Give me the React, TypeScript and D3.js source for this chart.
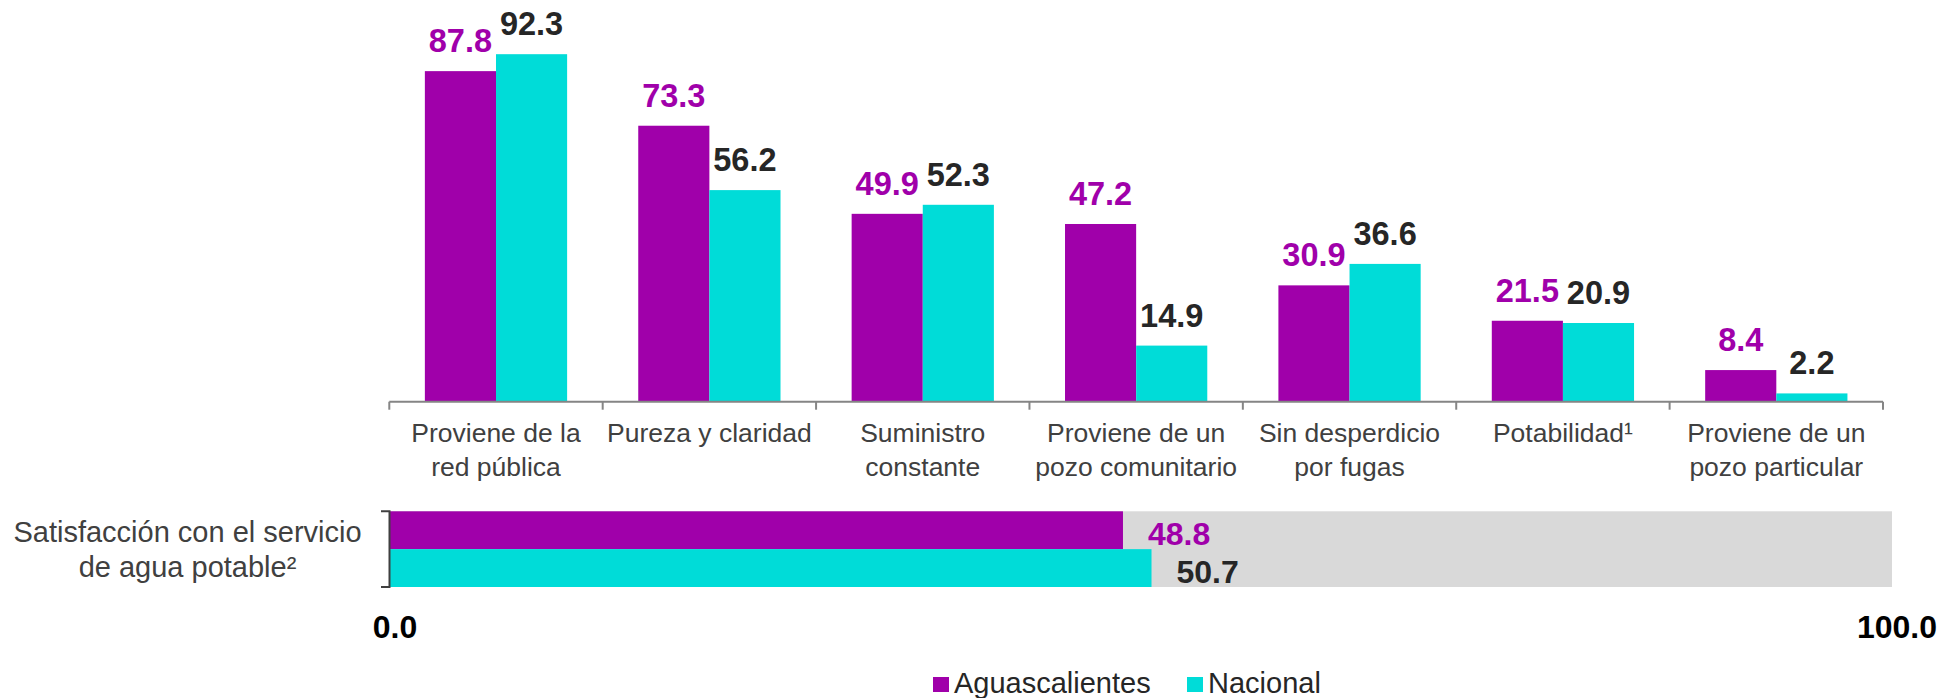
import React from 'react';
import * as d3 from 'd3';

// categorias (cada una con sus lineas de texto)
const categories = [
    ['Proviene de la', 'red pública'],
    ['Pureza y claridad'],
    ['Suministro', 'constante'],
    ['Proviene de un', 'pozo comunitario'],
    ['Sin desperdicio', 'por fugas'],
    ['Potabilidad¹'],
    ['Proviene de un', 'pozo particular'],
];
const series = ['Aguascalientes', 'Nacional'];
const aguascalientes = [87.8, 73.3, 49.9, 47.2, 30.9, 21.5, 8.4];
const nacional = [92.3, 56.2, 52.3, 14.9, 36.6, 20.9, 2.2];

const satisfaccionLabel = ['Satisfacción con el servicio', 'de agua potable²'];
const satisfaccion = [48.8, 50.7];
const axisTicks = [0, 100];

const PURPLE = '#A000AA';
const CYAN = '#00DCD8';
const FONT = '"Liberation Sans", Arial, sans-serif';

function App() {
    const width = 1949;
    const height = 698;

    // grafica de columnas
    const x0 = d3.scaleBand()
        .domain(categories.map((_, i) => String(i)))
        .range([389.3, 1883])
        .padding(0);
    const bw = x0.bandwidth();
    const x1 = d3.scaleBand().domain(series).range([bw / 6, (bw * 5) / 6]);
    const y = d3.scaleLinear().domain([0, 100]).range([401.7, 25.2]);

    // barra horizontal de satisfaccion
    const xs = d3.scaleLinear().domain([0, 100]).range([390, 1892]);
    const ys = d3.scaleBand().domain(series).range([511.3, 587]);

    const valuesBy = [aguascalientes, nacional];
    const labelColors = [PURPLE, '#262626'];
    const barColors = [PURPLE, CYAN];

    return (
        <svg width={width} height={height} style={{ position: 'absolute', left: 0, top: 0 }} fontFamily={FONT}>
            {/* columnas */}
            {categories.map((cat, i) => (
                <g key={i} transform={`translate(${x0(String(i))},0)`}>
                    {series.map((s, k) => {
                        const v = valuesBy[k][i];
                        const bx = x1(s) as number;
                        return (
                            <g key={s}>
                                <rect x={bx} y={y(v)} width={x1.bandwidth()} height={y(0) - y(v)} fill={barColors[k]} />
                                <text
                                    x={bx + x1.bandwidth() / 2}
                                    y={y(v) - 19}
                                    textAnchor="middle"
                                    fontSize={32.5}
                                    fontWeight="bold"
                                    fill={labelColors[k]}
                                >
                                    {v.toFixed(1)}
                                </text>
                            </g>
                        );
                    })}
                    {cat.map((line, j) => (
                        <text
                            key={j}
                            x={bw / 2}
                            y={442 + j * 34}
                            textAnchor="middle"
                            fontSize={26.5}
                            fill="#404040"
                        >
                            {line}
                        </text>
                    ))}
                </g>
            ))}
            {/* eje x */}
            <line x1={389.3} x2={1883} y1={y(0)} y2={y(0)} stroke="#858585" strokeWidth={2} />
            {d3.range(categories.length + 1).map((i) => {
                const tx = 389.3 + i * bw;
                return <line key={i} x1={tx} x2={tx} y1={y(0)} y2={y(0) + 8} stroke="#858585" strokeWidth={2} />;
            })}

            {/* satisfaccion */}
            <rect x={xs(0)} y={ys.range()[0]} width={xs(100) - xs(0)} height={ys.range()[1] - ys.range()[0]} fill="#D9D9D9" />
            {series.map((s, k) => {
                const v = satisfaccion[k];
                const by = ys(s) as number;
                return (
                    <g key={s}>
                        <rect x={xs(0)} y={by} width={xs(v) - xs(0)} height={ys.bandwidth()} fill={barColors[k]} />
                        <text
                            x={xs(v) + 25}
                            y={by + ys.bandwidth() - 4.5}
                            fontSize={32}
                            fontWeight="bold"
                            fill={labelColors[k]}
                        >
                            {v.toFixed(1)}
                        </text>
                    </g>
                );
            })}
            <path
                d={`M381,${ys.range()[0]}H389.5V${ys.range()[1]}H381`}
                fill="none"
                stroke="#404040"
                strokeWidth={2}
            />
            {satisfaccionLabel.map((line, j) => (
                <text key={j} x={187.5} y={541.7 + j * 35} textAnchor="middle" fontSize={29} fill="#404040">
                    {line}
                </text>
            ))}
            {axisTicks.map((t) => (
                <text key={t} x={xs(t) + 5} y={638} textAnchor="middle" fontSize={32} fontWeight="bold" fill="#000">
                    {t.toFixed(1)}
                </text>
            ))}

            {/* leyenda */}
            {series.map((s, k) => {
                const lx = [933, 1187][k];
                return (
                    <g key={s}>
                        <rect x={lx} y={677} width={16} height={15} fill={barColors[k]} />
                        <text x={lx + 21} y={693} fontSize={29} fill="#262626">
                            {s}
                        </text>
                    </g>
                );
            })}
        </svg>
    );
}

export default App;
